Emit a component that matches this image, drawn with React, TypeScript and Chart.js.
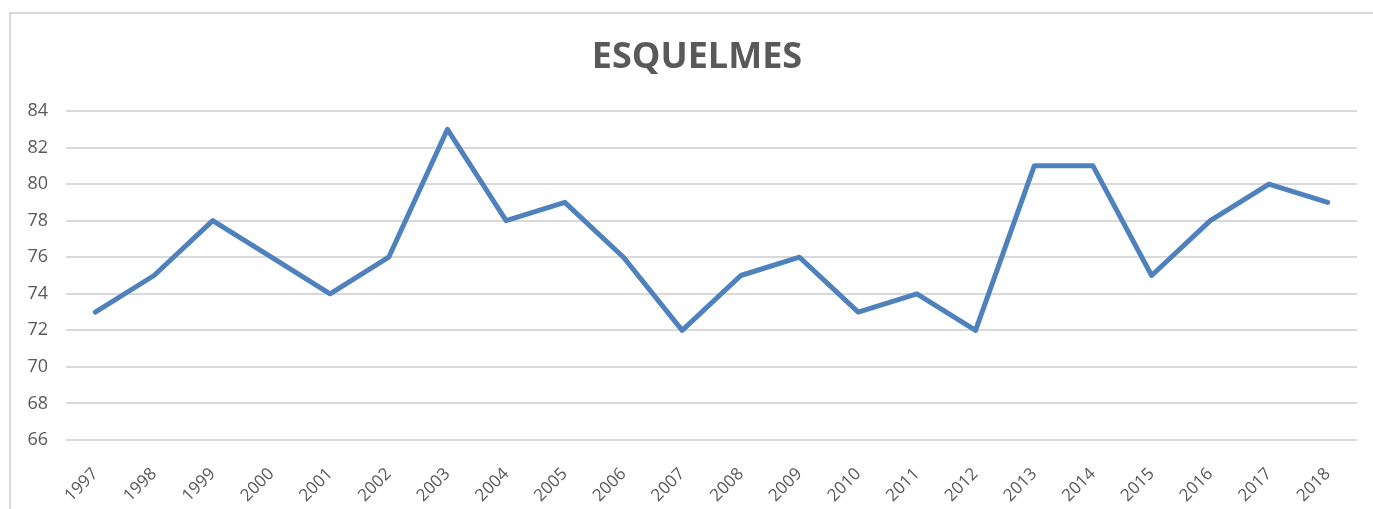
import React, { useEffect, useRef } from "react";
import { Chart, registerables } from "chart.js";

Chart.register(...registerables);

const years = ["1997","1998","1999","2000","2001","2002","2003","2004","2005","2006","2007","2008","2009","2010","2011","2012","2013","2014","2015","2016","2017","2018"];
const values = [73,75,78,76,74,76,83,78,79,76,72,75,76,73,74,72,81,81,75,78,80,79];
const yMin = 66;
const yMax = 84;
const yStep = 2;
const titleText = "ESQUELMES";

const titlePlugin = {
  id: "customTitle",
  afterDraw(chart: any) {
    const ctx = chart.ctx;
    ctx.save();
    ctx.fillStyle = "#595959";
    ctx.font = "bold 36px 'Open Sans'";
    ctx.textAlign = "center";
    ctx.textBaseline = "middle";
    ctx.fillText(titleText, 697, 58);
    ctx.restore();
  },
};

export default function App() {
  const ref = useRef<HTMLCanvasElement | null>(null);
  useEffect(() => {
    if (!ref.current) return;
    const chart = new Chart(ref.current, {
      type: "line",
      data: {
        labels: years,
        datasets: [
          {
            data: values,
            borderColor: "#4F81BD",
            borderWidth: 5,
            pointRadius: 0,
            tension: 0,
            borderCapStyle: "round",
            borderJoinStyle: "round",
          },
        ],
      },
      plugins: [titlePlugin],
      options: {
        animation: false,
        responsive: false,
        layout: { padding: { top: 111, left: 0, right: 16, bottom: 0 } },
        plugins: {
          legend: { display: false },
          tooltip: { enabled: false },
          title: { display: false },
        },
        scales: {
          x: {
            offset: true,
            grid: { display: false, drawTicks: false },
            border: { display: false },
            ticks: {
              color: "#595959",
              font: { family: "Open Sans", size: 17 },
              minRotation: 45,
              maxRotation: 45,
              autoSkip: false,
              padding: 24,
            },
            afterFit: (s: any) => { s.height = 69; },
          },
          y: {
            min: yMin,
            max: yMax,
            grid: { color: "#d9d9d9", lineWidth: 2, drawTicks: false },
            border: { display: false },
            ticks: {
              stepSize: yStep,
              color: "#595959",
              font: { family: "Open Sans", size: 18 },
              padding: 18,
            },
            afterFit: (s: any) => { s.width = 66; },
          },
        },
      },
    });
    return () => chart.destroy();
  }, []);
  return (
    <div style={{ position: "absolute", left: 0, top: 0, width: 1373, height: 509, overflow: "hidden", background: "#fff" }}>
      <div style={{ position: "absolute", left: 9, top: 12, width: 1420, height: 540, border: "2px solid #d9d9d9", boxSizing: "border-box" }} />
      <canvas ref={ref} width={1373} height={509} style={{ position: "absolute", left: 0, top: 0 }} />
    </div>
  );
}
